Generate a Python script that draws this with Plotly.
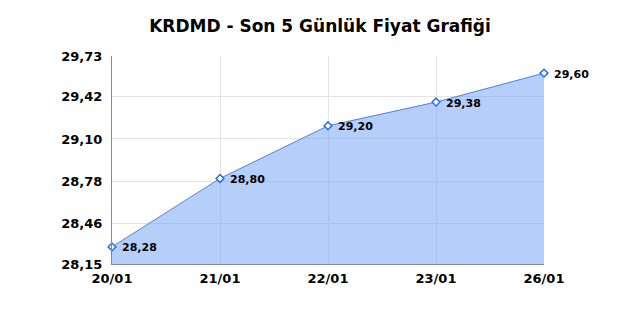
import plotly.graph_objects as go

dates = ["20/01", "21/01", "22/01", "23/01", "26/01"]
prices = [28.28, 28.80, 29.20, 29.38, 29.60]
y_ticks = [28.15, 28.46, 28.78, 29.10, 29.42, 29.73]
title = "KRDMD - Son 5 Günlük Fiyat Grafiği"

def fmt(v):
    return f"{v:.2f}".replace(".", ",")

xs = list(range(len(dates)))
fig = go.Figure()
fig.add_trace(go.Scatter(
    x=xs, y=prices, mode="lines+markers",
    fill="tozeroy", fillcolor="rgba(110,160,245,0.5)",
    line=dict(color="rgb(70,130,240)", width=1),
    marker=dict(symbol="diamond", size=6, color="white",
                line=dict(color="rgb(40,110,240)", width=1.5)),
    cliponaxis=False, hoverinfo="skip", showlegend=False,
))
for x, v in zip(xs, prices):
    fig.add_annotation(x=x, y=v, text=fmt(v), showarrow=False,
                       xanchor="left", yanchor="middle", xshift=8, yshift=-1,
                       font=dict(family="DejaVu Sans", size=11, color="black", weight="bold"))
fig.update_layout(
    width=640, height=320,
    margin=dict(l=112, r=96, t=56, b=56),
    paper_bgcolor="white", plot_bgcolor="white",
    title=dict(text=title, x=0.5, xanchor="center", y=0.92, yanchor="middle",
               font=dict(family="DejaVu Sans", size=17, color="black", weight="bold")),
    xaxis=dict(range=[0, 4], tickvals=xs, ticktext=dates, showgrid=True,
               gridcolor="#e4e4e4", showline=True, linecolor="#888888",
               linewidth=1, zeroline=False, ticks="", ticklen=0,
               ticklabelstandoff=2,
               tickfont=dict(family="DejaVu Sans", size=13, color="black", weight="bold")),
    yaxis=dict(range=[28.15, 29.73], tickvals=y_ticks,
               ticktext=[fmt(v) for v in y_ticks], showgrid=True,
               gridcolor="#e4e4e4", showline=True, linecolor="#888888",
               linewidth=1, zeroline=False, ticks="", ticklen=0,
               ticklabelstandoff=6,
               tickfont=dict(family="DejaVu Sans", size=13, color="black", weight="bold")),
)
fig.write_html("out.html")
